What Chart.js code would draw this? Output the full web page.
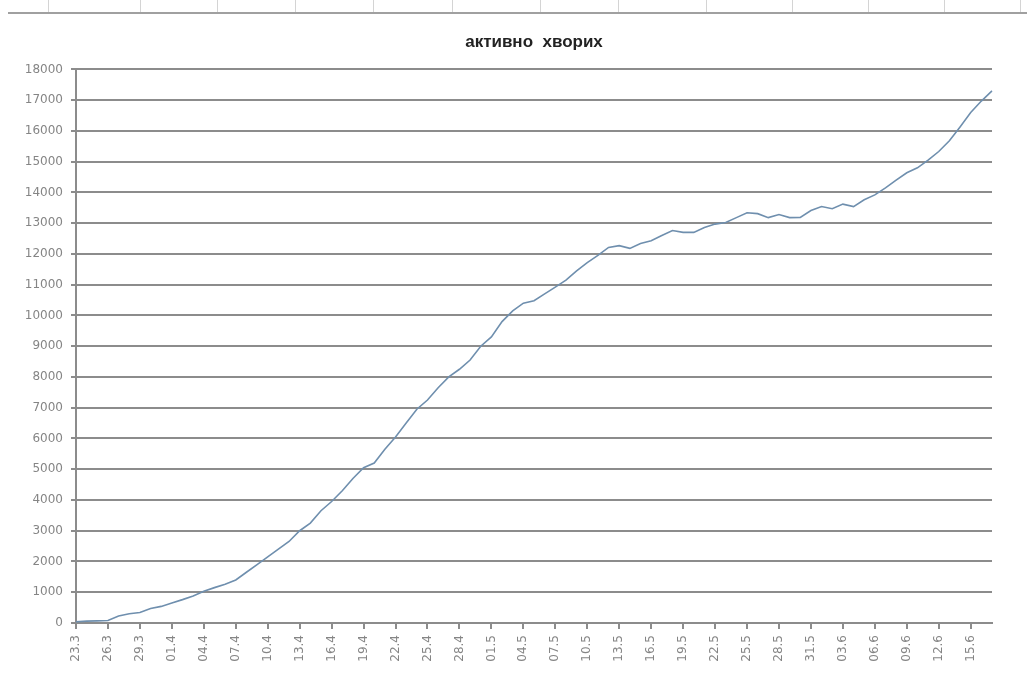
<!DOCTYPE html>
<html>
<head>
<meta charset="utf-8">
<script src="https://cdn.jsdelivr.net/npm/chart.js@4.4.1/dist/chart.umd.min.js"></script>
<style>
  html, body { margin: 0; padding: 0; background: #fff; }
  #wrap { position: relative; width: 1027px; height: 699px; }
  #grafico { position: absolute; left: 0; top: 0; }
  #strip { position: absolute; left: 8px; top: 0; width: 1019px; height: 12px; border-bottom: 2px solid #a0a0a0; }
  #strip div { position: absolute; top: 0; width: 1px; height: 12px; background: #d4d4d4; }
</style>
</head>
<body>
<div id="wrap">
  <canvas id="grafico" width="1027" height="699"></canvas>
  <div id="strip"></div>
</div>
<script>
// dates (day.month), one point per day
const dates = [
    '23.3','24.3','25.3','26.3','27.3','28.3','29.3','30.3','31.3',
    '01.4','02.4','03.4','04.4','05.4','06.4','07.4','08.4','09.4','10.4',
    '11.4','12.4','13.4','14.4','15.4','16.4','17.4','18.4','19.4','20.4',
    '21.4','22.4','23.4','24.4','25.4','26.4','27.4','28.4','29.4','30.4',
    '01.5','02.5','03.5','04.5','05.5','06.5','07.5','08.5','09.5','10.5',
    '11.5','12.5','13.5','14.5','15.5','16.5','17.5','18.5','19.5','20.5',
    '21.5','22.5','23.5','24.5','25.5','26.5','27.5','28.5','29.5','30.5','31.5',
    '01.6','02.6','03.6','04.6','05.6','06.6','07.6','08.6','09.6','10.6',
    '11.6','12.6','13.6','14.6','15.6','16.6','17.6'
];

// активно хворих
const activeCases = [
    40, 60, 70, 80, 230, 300, 340, 470, 540,
    650, 760, 880, 1030, 1150, 1260, 1400, 1650, 1900, 2150,
    2400, 2650, 3000, 3250, 3650, 3950, 4300, 4700, 5050, 5200,
    5650, 6050, 6500, 6950, 7250, 7650, 8000, 8250, 8550, 9000,
    9300, 9800, 10150, 10400, 10480, 10700, 10920, 11150, 11450, 11720,
    11950, 12210, 12270, 12180, 12340, 12430, 12600, 12760, 12700, 12700,
    12860, 12970, 13020, 13180, 13340, 13310, 13180, 13280, 13180, 13190, 13410,
    13540, 13470, 13620, 13540, 13760, 13920, 14150, 14400, 14640, 14800,
    15050, 15330, 15680, 16130, 16600, 16970, 17300
];

const yMin = 0;
const yMax = 18000;
const yStep = 1000;
const labelEvery = 3;

// spreadsheet cell borders above the chart
const stripCols = [40, 132, 209, 287, 365, 444, 532, 610, 698, 784, 860, 936, 1012];
const strip = document.getElementById('strip');
stripCols.forEach(x => {
    const d = document.createElement('div');
    d.style.left = x + 'px';
    strip.appendChild(d);
});

const gridColor = '#8c8c8c';
const tickFont = { family: 'DejaVu Sans', size: 12 };

new Chart(document.getElementById('grafico'), {
    type: 'line',
    data: {
        labels: dates,
        datasets: [{
            label: 'активно хворих',
            data: activeCases,
            borderColor: '#6f8fae',
            borderWidth: 1.6,
            pointRadius: 0,
            tension: 0,
            fill: false
        }]
    },
    options: {
        responsive: false,
        animation: false,
        layout: { padding: { left: 0, right: 35, top: 0, bottom: 0 } },
        plugins: {
            legend: { display: false },
            tooltip: { enabled: false },
            title: {
                display: true,
                fullSize: false,
                text: 'активно  хворих',
                color: '#222',
                font: { family: 'Liberation Sans', size: 17, weight: 'bold' },
                padding: { top: 32, bottom: 17 }
            }
        },
        scales: {
            x: {
                offset: false,
                afterFit: (scale) => { scale.height = 76; },
                border: { display: true, color: gridColor, width: 2 },
                grid: {
                    drawOnChartArea: false,
                    drawTicks: true,
                    tickLength: 6,
                    color: (ctx) => (ctx.index % labelEvery === 0 ? gridColor : 'rgba(0,0,0,0)'),
                    lineWidth: 2
                },
                ticks: {
                    autoSkip: false,
                    maxRotation: 90,
                    minRotation: 90,
                    padding: 6,
                    color: '#858585',
                    font: tickFont,
                    callback: function(value, index) {
                        return index % labelEvery === 0 ? this.getLabelForValue(value) : '';
                    }
                }
            },
            y: {
                min: yMin,
                max: yMax,
                afterFit: (scale) => { scale.width = 76; },
                border: { display: true, color: gridColor, width: 2 },
                grid: {
                    color: gridColor,
                    lineWidth: 2,
                    drawTicks: true,
                    tickLength: 5
                },
                ticks: {
                    stepSize: yStep,
                    padding: 8,
                    color: '#858585',
                    font: tickFont,
                    callback: (value) => String(value)
                }
            }
        }
    }
});
</script>
</body>
</html>
